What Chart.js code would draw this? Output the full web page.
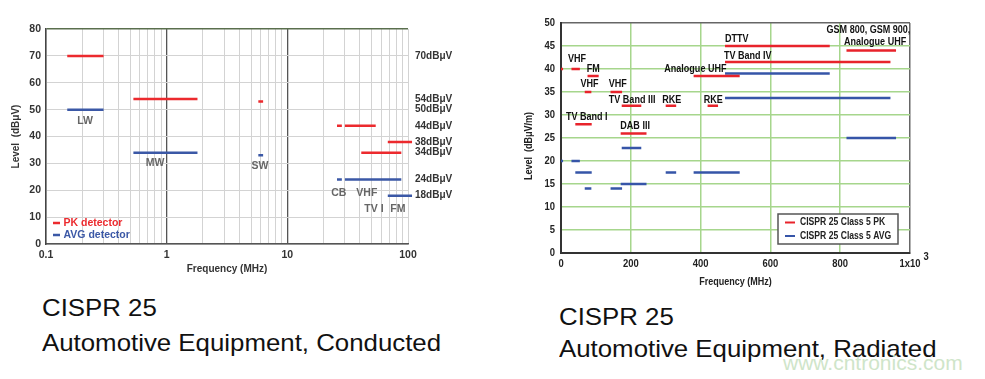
<!DOCTYPE html>
<html><head><meta charset="utf-8">
<script src="https://cdn.jsdelivr.net/npm/chart.js@4"></script>
<style>
html,body{margin:0;padding:0;background:#fff;width:985px;height:379px;overflow:hidden;}
body{position:relative;font-family:"Liberation Sans",Arial,sans-serif;}
#c1{position:absolute;left:0;top:0}
#c2{position:absolute;left:520px;top:0}
.cap{position:absolute;color:#111;font-size:24px;line-height:1;white-space:nowrap;transform-origin:0 0;transform:scaleX(1.076);}
.wm{position:absolute;left:783px;top:352px;color:#cfe5c9;font-size:21px;line-height:1;white-space:nowrap;}
</style></head>
<body>
<canvas id="c1" width="480" height="290"></canvas>
<canvas id="c2" width="465" height="300"></canvas>
<div class="cap" style="left:42px;top:296px">CISPR 25</div>
<div class="cap" style="left:42px;top:331px">Automotive Equipment, Conducted</div>
<div class="cap" style="left:559px;top:305px">CISPR 25</div>
<div class="cap" style="left:559px;top:337px">Automotive Equipment, Radiated</div>
<div class="wm">www.cntronics.com</div>
<script>
// ---------- Conducted (left) ----------
const condPkStart  = [0.15, 0.53, 5.75, 25.8, 30, 41, 68];
const condPkEnd    = [0.3,  1.8,  6.3,  28.3, 54, 88, 108];
const condPkLevel  = [70,   54,   53,   44,   44, 34, 38];
const condAvgStart = [0.15, 0.53, 5.75, 25.8, 30, 41, 68];
const condAvgEnd   = [0.3,  1.8,  6.3,  28.3, 54, 88, 108];
const condAvgLevel = [50,   34,   33,   24,   24, 24, 18];
const condBandLabels = ['LW', 'MW', 'SW', 'CB', 'VHF', 'TV I', 'FM'];
const condBandFreq   = [0.211, 0.80, 5.93, 26.7, 45.6, 52.2, 82.4];
const condBandLevel  = [45.8, 30.1, 29, 19, 19, 13, 13];
const condRightTicks = [70, 54, 50, 44, 38, 34, 24, 18];
const condGridTicks  = [0.1,0.2,0.3,0.4,0.5,0.6,0.7,0.8,0.9,1,2,3,4,5,6,7,8,9,10,20,30,40,50,60,70,80,90,100];
const condMajorTicks = [0.1, 1, 10, 100];

// ---------- Radiated (right) ----------
const radPkStart  = [0, 30, 76, 68, 142, 41, 174, 171, 300, 380, 420, 470, 470, 818];
const radPkEnd    = [6, 54, 108, 87, 175, 88, 230, 245, 330, 512, 450, 770, 944, 960];
const radPkLevel  = [40, 40, 38.5, 35, 35, 28, 32, 26, 32, 38.5, 32, 45, 41.5, 44];
const radAvgStart = [0, 30, 41, 68, 142, 174, 171, 300, 380, 470, 470, 818];
const radAvgEnd   = [6, 54, 88, 87, 175, 230, 245, 330, 512, 770, 944, 960];
const radAvgLevel = [20, 20, 17.5, 14, 14, 22.8, 15, 17.5, 17.5, 39, 33.7, 25];
const radLabels = ['GSM 800, GSM 900,', 'Analogue UHF', 'DTTV', 'TV Band IV', 'Analogue UHF', 'VHF', 'FM', 'VHF', 'VHF', 'TV Band III', 'RKE', 'RKE', 'TV Band I', 'DAB III'];
const radLabelFreq  = [761, 811, 470, 467, 296, 20, 74, 56, 137, 137, 290, 409, 14, 170];
const radLabelLevel = [48.4, 45.9, 46.5, 42.9, 40.0, 42.2, 40.0, 36.8, 36.8, 33.3, 33.3, 33.3, 29.6, 27.7];
const radXTicks = [0, 200, 400, 600, 800, 1000];
const radXTickText = ['0', '200', '400', '600', '800', '1x10'];
const radYTicks = [0, 5, 10, 15, 20, 25, 30, 35, 40, 45, 50];

const F1 = '"Liberation Sans", Arial, sans-serif';
const RED1 = '#ec2a2e', BLUE1 = '#3b58a6';
const RED2 = '#e8232b', BLUE2 = '#3655a8';
const NARROW = 0.82;

function segs(starts, ends, levels) {
  const pts = [];
  for (let i = 0; i < starts.length; i++) {
    pts.push({x: starts[i], y: levels[i]}, {x: ends[i], y: levels[i]}, {x: ends[i], y: null});
  }
  return pts;
}
function lineDs(label, data, color) {
  return {label, data, borderColor: color, backgroundColor: color, borderWidth: 2.5,
    pointRadius: 0, spanGaps: false, clip: false, tension: 0, borderCapStyle: 'butt'};
}
// narrow (condensed) text: Liberation Sans Bold squeezed horizontally
function nText(ctx, text, x, y, align, size, rot) {
  ctx.save();
  ctx.translate(x, y);
  if (rot) ctx.rotate(rot);
  ctx.scale(NARROW, 1);
  ctx.font = 'bold ' + size + 'px ' + F1;
  ctx.textAlign = align;
  ctx.textBaseline = 'middle';
  ctx.fillText(text, 0, 0);
  ctx.restore();
}
function nWidth(ctx, text, size) {
  ctx.save();
  ctx.font = 'bold ' + size + 'px ' + F1;
  const w = ctx.measureText(text).width * NARROW;
  ctx.restore();
  return w;
}

const condPlugin = {
  id: 'condExtras',
  afterDraw(chart) {
    const {ctx, chartArea: a, scales} = chart;
    ctx.save();
    ctx.font = 'bold 10.5px ' + F1;
    ctx.fillStyle = '#666';
    ctx.textAlign = 'center';
    ctx.textBaseline = 'middle';
    condBandLabels.forEach((t, i) => {
      ctx.fillText(t, scales.x.getPixelForValue(condBandFreq[i]), scales.y.getPixelForValue(condBandLevel[i]));
    });
    const items = [[chart.data.datasets[0].label, RED1, a.bottom - 21], [chart.data.datasets[1].label, BLUE1, a.bottom - 9]];
    ctx.textAlign = 'left';
    items.forEach(([t, c, y]) => {
      ctx.strokeStyle = c; ctx.lineWidth = 2.5;
      ctx.beginPath(); ctx.moveTo(a.left + 7, y); ctx.lineTo(a.left + 14, y); ctx.stroke();
      ctx.fillStyle = c; ctx.font = 'bold 10.5px ' + F1;
      ctx.fillText(t, a.left + 17.5, y);
    });
    ctx.restore();
  }
};

new Chart(document.getElementById('c1'), {
  type: 'line',
  data: {datasets: [
    lineDs('PK detector', segs(condPkStart, condPkEnd, condPkLevel), RED1),
    lineDs('AVG detector', segs(condAvgStart, condAvgEnd, condAvgLevel), BLUE1)
  ]},
  options: {
    responsive: false, animation: false, devicePixelRatio: 1,
    layout: {padding: {top: 29, left: 0, right: 0, bottom: 0}},
    plugins: {legend: {display: false}, tooltip: {enabled: false}},
    scales: {
      x: {
        type: 'logarithmic', min: 0.1, max: 100, position: 'bottom',
        afterBuildTicks(s) { s.ticks = condGridTicks.map(v => ({value: v})); },
        afterFit(s) { s.height = 46; },
        ticks: {autoSkip: false, maxRotation: 0, padding: 5, color: '#333',
          font: {family: F1, size: 10.5, weight: 'bold'},
          callback: (v) => condMajorTicks.includes(v) ? String(v) : ''},
        grid: {drawTicks: false,
          color: (c) => (c.tick && (c.tick.value === 1 || c.tick.value === 10)) ? '#555' : '#d3d3d3',
          lineWidth: (c) => (c.tick && (c.tick.value === 1 || c.tick.value === 10)) ? 1.3 : 1},
        border: {color: '#555', width: 1.5},
        title: {display: true, text: 'Frequency (MHz)', color: '#333',
          font: {family: F1, size: 10, weight: 'bold'}, padding: {top: 0, bottom: 15}}
      },
      y: {
        min: 0, max: 80, position: 'left',
        afterFit(s) { s.width = 46; },
        ticks: {stepSize: 10, padding: 5, color: '#333', font: {family: F1, size: 10.5, weight: 'bold'}},
        grid: {drawTicks: false,
          color: (c) => (c.tick && c.tick.value === 80) ? '#5a6f4e' : '#d3d3d3',
          lineWidth: (c) => (c.tick && c.tick.value === 80) ? 1.5 : 1},
        border: {color: '#444', width: 1.5},
        title: {display: true, text: 'Level  (dBμV)', color: '#333',
          font: {family: F1, size: 10, weight: 'bold'}, padding: {top: 10, bottom: 0}}
      },
      y2: {
        min: 0, max: 80, position: 'right',
        afterBuildTicks(s) { s.ticks = condRightTicks.map(v => ({value: v})); },
        afterFit(s) { s.width = 72; },
        grid: {display: false, drawTicks: false},
        border: {display: false},
        ticks: {autoSkip: false, padding: 7, color: '#333', font: {family: F1, size: 10, weight: 'bold'},
          callback: (v) => v + 'dBμV'}
      }
    }
  },
  plugins: [condPlugin]
});

const radPlugin = {
  id: 'radExtras',
  afterDraw(chart) {
    const {ctx, chartArea: a, scales} = chart;
    const sx = scales.x, sy = scales.y;
    ctx.save();
    // band annotations
    ctx.fillStyle = '#111';
    radLabels.forEach((t, i) => {
      nText(ctx, t, sx.getPixelForValue(radLabelFreq[i]), sy.getPixelForValue(radLabelLevel[i]), 'left', 11);
    });
    // axis tick labels
    ctx.fillStyle = '#222';
    radYTicks.forEach(v => nText(ctx, String(v), a.left - 6, sy.getPixelForValue(v), 'right', 11.5));
    radXTicks.forEach((v, i) => nText(ctx, radXTickText[i], sx.getPixelForValue(v), a.bottom + 11, 'center', 11.5));
    const lastX = sx.getPixelForValue(radXTicks[radXTicks.length - 1]);
    const w = nWidth(ctx, radXTickText[radXTickText.length - 1], 11.5);
    nText(ctx, '3', lastX + w / 2 + 3, a.bottom + 4, 'left', 11.5);
    // axis titles
    nText(ctx, 'Frequency (MHz)', (a.left + a.right) / 2, a.bottom + 29, 'center', 11);
    nText(ctx, 'Level  (dBμV/m)', 9, a.top + 123, 'center', 11, -Math.PI / 2);
    // legend box
    const bw = 120, bh = 30;
    const bx = a.right - 12 - bw, by = a.bottom - 9 - bh;
    ctx.fillStyle = '#fff';
    ctx.fillRect(bx, by, bw, bh);
    ctx.strokeStyle = '#555'; ctx.lineWidth = 1.5;
    ctx.strokeRect(bx, by, bw, bh);
    const items = [[chart.data.datasets[0].label, RED2, by + 8.5], [chart.data.datasets[1].label, BLUE2, by + 22]];
    items.forEach(([t, c, y]) => {
      ctx.strokeStyle = c; ctx.lineWidth = 2;
      ctx.beginPath(); ctx.moveTo(bx + 7, y); ctx.lineTo(bx + 17, y); ctx.stroke();
      ctx.fillStyle = '#222';
      nText(ctx, t, bx + 22, y, 'left', 10.5);
    });
    ctx.restore();
  }
};

const GREEN = '#a6d68c';
new Chart(document.getElementById('c2'), {
  type: 'line',
  data: {datasets: [
    lineDs('CISPR 25 Class 5 PK', segs(radPkStart, radPkEnd, radPkLevel), RED2),
    lineDs('CISPR 25 Class 5 AVG', segs(radAvgStart, radAvgEnd, radAvgLevel), BLUE2)
  ]},
  options: {
    responsive: false, animation: false, devicePixelRatio: 1,
    layout: {padding: {top: 23, left: 0, right: 75, bottom: 0}},
    plugins: {legend: {display: false}, tooltip: {enabled: false}},
    scales: {
      x: {
        type: 'linear', min: 0, max: 1000, position: 'bottom',
        afterBuildTicks(s) { s.ticks = radXTicks.map(v => ({value: v})); },
        afterFit(s) { s.height = 47; },
        ticks: {display: false},
        grid: {drawTicks: false,
          color: (c) => (c.tick && c.tick.value === 1000) ? '#666' : GREEN,
          lineWidth: 1.5},
        border: {color: '#333', width: 2}
      },
      y: {
        min: 0, max: 50, position: 'left',
        afterBuildTicks(s) { s.ticks = radYTicks.map(v => ({value: v})); },
        afterFit(s) { s.width = 41; },
        ticks: {display: false},
        grid: {drawTicks: false,
          color: (c) => (c.tick && c.tick.value === 50) ? '#666' : GREEN,
          lineWidth: 1.5},
        border: {color: '#333', width: 2}
      }
    }
  },
  plugins: [radPlugin]
});
</script>
</body></html>
